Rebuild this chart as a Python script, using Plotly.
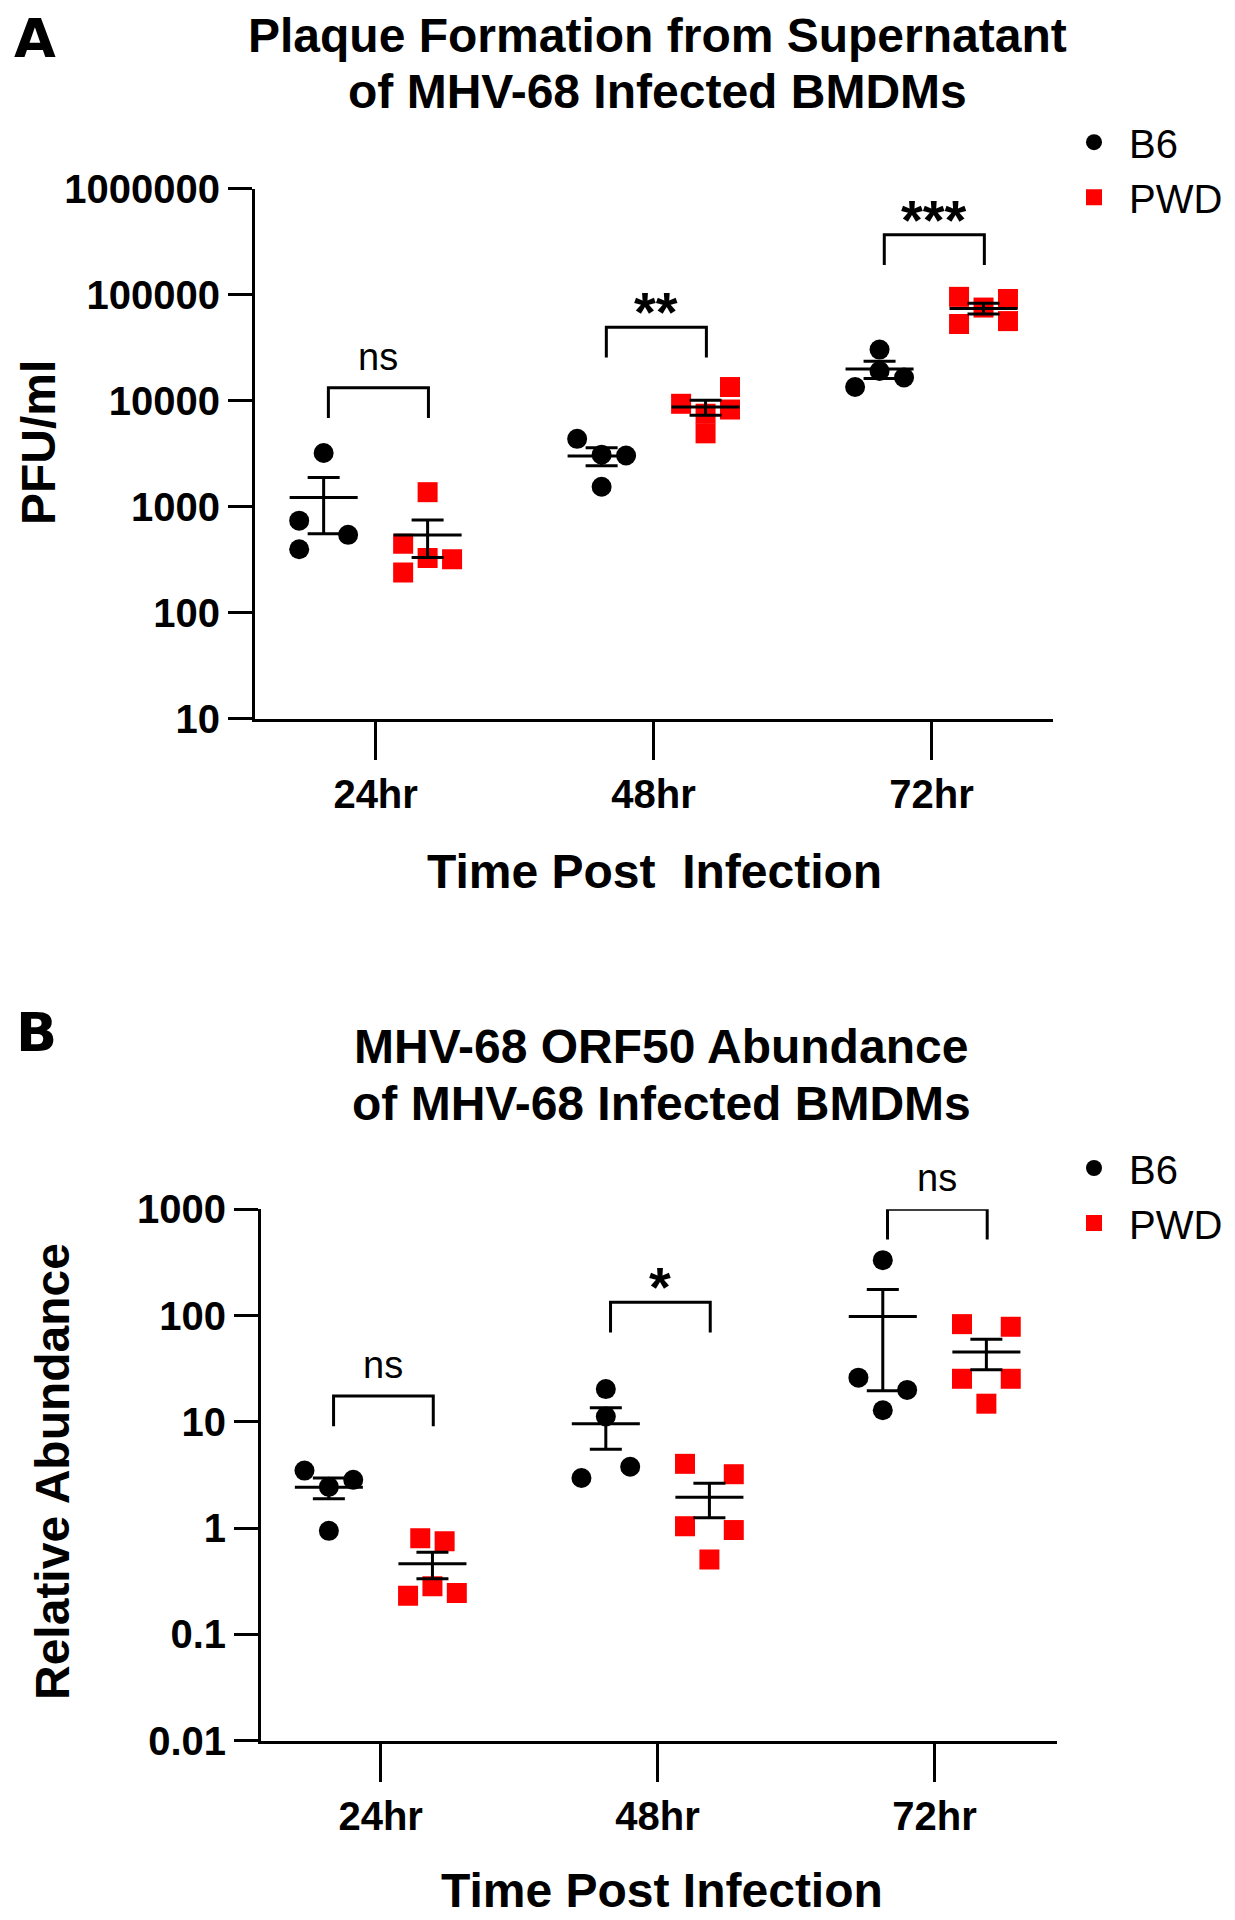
import math
import numpy as np
import plotly.graph_objects as go

categories = ["24hr", "48hr", "72hr"]

# Panel A - plaque assay from supernatant (PFU/ml)
pfu_b6 = [
    [3200, 735, 540, 395],
    [4350, 3080, 3030, 1535],
    [30200, 19000, 16500, 13400],
]
pfu_pwd = [
    [1365, 445, 326, 318, 239],
    [9310, 13400, 8220, 7500, 4900],
    [95000, 75300, 90700, 52700, 56100],
]
pfu_sig = ["ns", "**", "***"]

# Panel B - ORF50 relative abundance
orf50_b6 = [
    [3.47, 2.44, 2.84, 0.94],
    [20.3, 11.2, 3.77, 2.96],
    [332, 26.0, 19.95, 12.85],
]
orf50_pwd = [
    [0.80, 0.75, 0.283, 0.23, 0.244],
    [4.02, 3.21, 1.04, 0.957, 0.506],
    [83, 78.4, 25.4, 25.4, 14.8],
]
orf50_sig = ["ns", "*", "ns"]

# ---- layout helpers (positions only) ----
FONT = "Liberation Sans, Arial, sans-serif"
RED = "#FF0000"
W, H = 1235, 1920
BODY = 8  # default page margin around the plot div


def px_x(x):
    return (x - BODY) / W


def px_y(y):
    return 1 - (y - BODY) / H


GRP_OFF = 0.187      # group offset from category centre
JIT = 0.088          # dot spread inside a group
# dot columns inside each group (-1 left, 0 centre, 1 right)
jit_a_b6 = [[0, -1, 1, -1], [-1, 0, 1, 0], [0, 0, 1, -1]]
jit_a_pwd = [[0, -1, 0, 1, -1], [-1, 1, 1, 0, 0], [-1, 0, 1, -1, 1]]
jit_b_b6 = [[-1, 0, 1, 0], [0, 0, 1, -1], [0, -1, 1, 0]]
jit_b_pwd = [[-0.5, 0.5, 0, -1, 1], [-1, 1, -1, 1, 0], [-1, 1, -1, 1, 0]]
# bracket top height (log10) for each comparison
brk_a = [4.12, 4.69, 5.563]
brk_b = [1.242, 2.125, 3.0]
LEG = 0.285


def mean_sem(groups):
    m = [float(np.mean(g)) for g in groups]
    s = [float(np.std(g, ddof=1) / math.sqrt(len(g))) for g in groups]
    return m, s


fig = go.Figure()


def add_panel(xa, ya, b6, pwd, jb, jp, brk, sig, legend):
    xs, ys = [], []
    for i, g in enumerate(b6):
        for v, j in zip(g, jb[i]):
            xs.append(i - GRP_OFF + j * JIT)
            ys.append(v)
    fig.add_trace(go.Scatter(x=xs, y=ys, mode="markers", name="B6",
                             marker=dict(symbol="circle", size=20, color="black", line=dict(width=0)),
                             xaxis=xa, yaxis=ya, legend=legend, hoverinfo="skip"))
    xs, ys = [], []
    for i, g in enumerate(pwd):
        for v, j in zip(g, jp[i]):
            xs.append(i + GRP_OFF + j * JIT)
            ys.append(v)
    fig.add_trace(go.Scatter(x=xs, y=ys, mode="markers", name="PWD",
                             marker=dict(symbol="square", size=20, color=RED, line=dict(width=0)),
                             xaxis=xa, yaxis=ya, legend=legend, hoverinfo="skip"))
    # mean +/- SEM
    for grp, off in ((b6, -GRP_OFF), (pwd, GRP_OFF)):
        m, s = mean_sem(grp)
        fig.add_trace(go.Scatter(
            x=[i + off for i in range(len(m))], y=m, mode="markers", showlegend=False,
            marker=dict(symbol="line-ew", size=48.6, color="black", line=dict(width=3, color="black")),
            error_y=dict(type="data", array=s, symmetric=True, width=16, thickness=3, color="black"),
            xaxis=xa, yaxis=ya, hoverinfo="skip"))
    # significance brackets
    for i, top in enumerate(brk):
        t = 10 ** top
        b = 10 ** (top - LEG)
        fig.add_trace(go.Scatter(
            x=[i - 0.17, i - 0.17, i + 0.19, i + 0.19], y=[b, t, t, b], mode="lines",
            line=dict(color="black", width=3), showlegend=False, hoverinfo="skip",
            xaxis=xa, yaxis=ya))
        star = sig[i].startswith("*")
        fig.add_annotation(x=i + 0.01, y=top, xref=xa, yref=ya, text=sig[i], showarrow=False,
                           yanchor="bottom", yshift=-18 if star else 8,
                           font=dict(family=FONT, size=56 if star else 38, color="black",
                                     weight="bold" if star else "normal"))


add_panel("x", "y", pfu_b6, pfu_pwd, jit_a_b6, jit_a_pwd, brk_a, pfu_sig, "legend")
add_panel("x2", "y2", orf50_b6, orf50_pwd, jit_b_b6, jit_b_pwd, brk_b, orf50_sig, "legend2")

axis_common = dict(showline=True, linewidth=3, linecolor="black", showgrid=False, zeroline=False,
                   ticks="outside", tickwidth=2.5, tickcolor="black", automargin=False,
                   tickfont=dict(family=FONT, size=40, color="black", weight="bold"))

legend_common = dict(xanchor="left", yanchor="top", bgcolor="rgba(0,0,0,0)", itemwidth=60,
                     font=dict(family=FONT, size=40, color="black"))

fig.update_layout(
    width=W, height=H, margin=dict(l=0, r=0, t=0, b=0),
    paper_bgcolor="white", plot_bgcolor="white",
    xaxis=dict(domain=[px_x(255), px_x(1053)], range=[-0.434, 2.437], anchor="y",
               tickvals=[0, 1, 2], ticktext=categories, ticklen=38, **axis_common),
    yaxis=dict(domain=[px_y(718.5), px_y(188.5)], type="log", range=[1, 6], anchor="x",
               tickvals=[10, 100, 1000, 10000, 100000, 1000000],
               ticktext=["10", "100", "1000", "10000", "100000", "1000000"], ticklen=24, **axis_common),
    xaxis2=dict(domain=[px_x(261), px_x(1057)], range=[-0.432, 2.442], anchor="y2",
                tickvals=[0, 1, 2], ticktext=categories, ticklen=38, **axis_common),
    yaxis2=dict(domain=[px_y(1740.5), px_y(1209.3)], type="log", range=[-2, 3], anchor="x2",
                tickvals=[0.01, 0.1, 1, 10, 100, 1000],
                ticktext=["0.01", "0.1", "1", "10", "100", "1000"], ticklen=24, **axis_common),
    legend=dict(x=px_x(1059), y=px_y(109.7), **legend_common),
    legend2=dict(x=px_x(1059), y=px_y(1135.5), **legend_common),
)

texts = [
    ("A", 35.5, 38, 54, 0, "DejaVu Sans"),
    ("B", 36.7, 1032, 54, 0, "DejaVu Sans"),
    ("Plaque Formation from Supernatant", 657, 36, 48, 0, FONT),
    ("of MHV-68 Infected BMDMs", 657, 92, 48, 0, FONT),
    ("MHV-68 ORF50 Abundance", 661, 1046, 48, 0, FONT),
    ("of MHV-68 Infected BMDMs", 661, 1103, 48, 0, FONT),
    ("Time Post\u00a0 Infection", 654, 871.5, 48, 0, FONT),
    ("Time Post Infection", 662, 1890, 48, 0, FONT),
    ("PFU/ml", 38, 443, 48, -90, FONT),
    ("Relative Abundance", 52, 1472, 48, -90, FONT),
]
for txt, x, y, size, ang, fam in texts:
    fig.add_annotation(x=px_x(x), y=px_y(y), xref="paper", yref="paper", text=txt, showarrow=False,
                       xanchor="center", yanchor="middle", textangle=ang,
                       font=dict(family=fam, size=size, color="black", weight="bold"))

fig.write_html("out.html")
